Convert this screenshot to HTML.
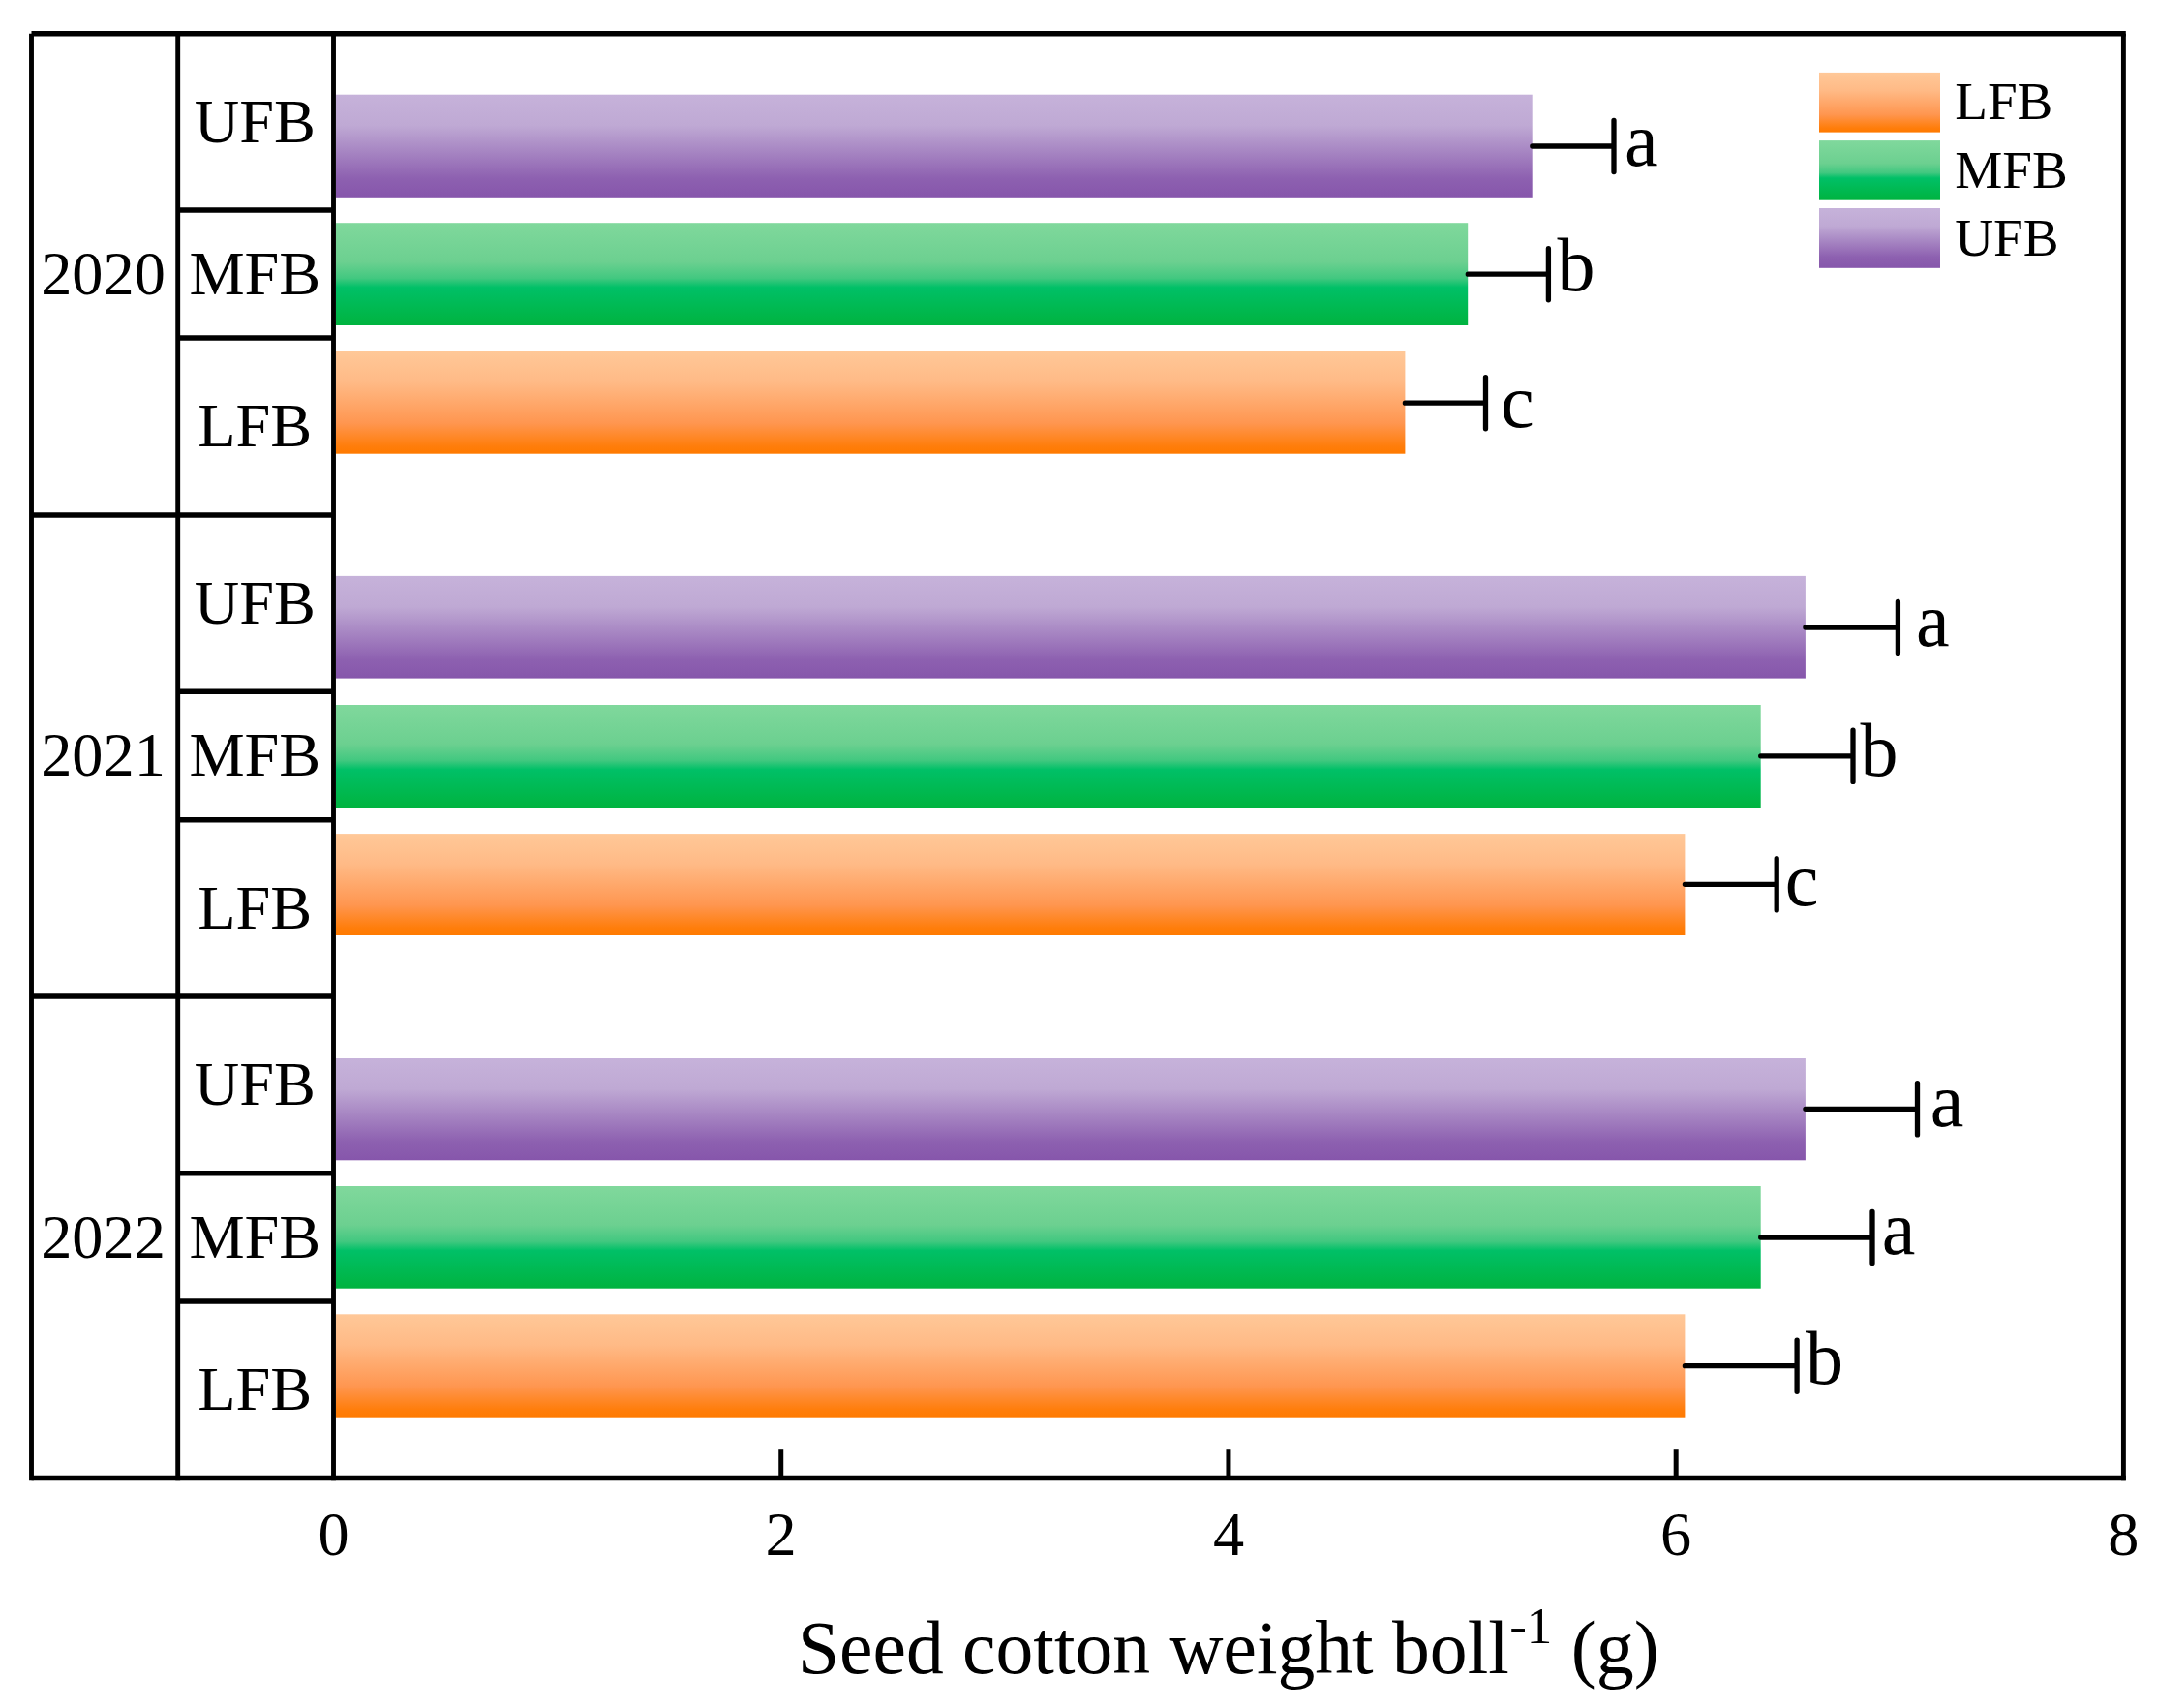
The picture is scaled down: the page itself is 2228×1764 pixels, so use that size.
<!DOCTYPE html>
<html lang="en"><head><meta charset="utf-8"><title>Seed cotton weight per boll</title>
<style>
html,body{margin:0;padding:0;background:#fff;}
body{width:2228px;height:1764px;overflow:hidden;}
svg{display:block;}
text{font-family:"Liberation Serif", "Times New Roman", serif;fill:#000;}
</style></head><body>
<svg width="2228" height="1764" viewBox="0 0 2228 1764">
<defs>
<linearGradient id="gp" x1="0" y1="0" x2="0" y2="1">
<stop offset="0" stop-color="#c6b2da"/><stop offset="0.3" stop-color="#bfa9d4"/><stop offset="0.82" stop-color="#8d60b0"/><stop offset="1" stop-color="#8656ab"/>
</linearGradient>
<linearGradient id="gg" x1="0" y1="0" x2="0" y2="1">
<stop offset="0" stop-color="#80d89c"/><stop offset="0.38" stop-color="#6cd090"/><stop offset="0.54" stop-color="#42c880"/><stop offset="0.63" stop-color="#00c067"/><stop offset="1" stop-color="#00b33f"/>
</linearGradient>
<linearGradient id="go" x1="0" y1="0" x2="0" y2="1">
<stop offset="0" stop-color="#ffc898"/><stop offset="0.3" stop-color="#ffba86"/><stop offset="0.7" stop-color="#ff9650"/><stop offset="0.93" stop-color="#ff7d0a"/><stop offset="1" stop-color="#ff7a00"/>
</linearGradient>
</defs>
<rect x="0" y="0" width="2228" height="1764" fill="#fff"/>

<g id="bars">
<rect x="346.9" y="97.7" width="1235.8" height="106.1" fill="url(#gp)"/>
<rect x="346.9" y="230.2" width="1169.3" height="105.8" fill="url(#gg)"/>
<rect x="346.9" y="363.0" width="1104.5" height="105.7" fill="url(#go)"/>
<rect x="346.9" y="594.9" width="1518.0" height="105.7" fill="url(#gp)"/>
<rect x="346.9" y="728.0" width="1471.8" height="106.0" fill="url(#gg)"/>
<rect x="346.9" y="861.1" width="1393.5" height="104.9" fill="url(#go)"/>
<rect x="346.9" y="1093.0" width="1518.0" height="105.3" fill="url(#gp)"/>
<rect x="346.9" y="1225.0" width="1471.8" height="105.7" fill="url(#gg)"/>
<rect x="346.9" y="1357.3" width="1393.5" height="106.4" fill="url(#go)"/>
</g>
<g id="axes" stroke="#000" fill="none">
<line x1="32.5" y1="34.8" x2="2195.8" y2="34.8" stroke-width="5.5"/>
<line x1="32.5" y1="1526.6" x2="2195.8" y2="1526.6" stroke-width="5.5"/>
<line x1="32.5" y1="532.1" x2="344.5" y2="532.1" stroke-width="5.5"/>
<line x1="32.5" y1="1028.9" x2="344.5" y2="1028.9" stroke-width="5.5"/>
<line x1="183.7" y1="217.0" x2="344.5" y2="217.0" stroke-width="5.5"/>
<line x1="183.7" y1="349.1" x2="344.5" y2="349.1" stroke-width="5.5"/>
<line x1="183.7" y1="714.2" x2="344.5" y2="714.2" stroke-width="5.5"/>
<line x1="183.7" y1="846.7" x2="344.5" y2="846.7" stroke-width="5.5"/>
<line x1="183.7" y1="1211.7" x2="344.5" y2="1211.7" stroke-width="5.5"/>
<line x1="183.7" y1="1344.0" x2="344.5" y2="1344.0" stroke-width="5.5"/>
<line x1="32.5" y1="34.8" x2="32.5" y2="1529.35" stroke-width="4.9"/>
<line x1="183.7" y1="34.8" x2="183.7" y2="1529.35" stroke-width="4.9"/>
<line x1="344.5" y1="34.8" x2="344.5" y2="1529.35" stroke-width="4.9"/>
<line x1="2193.4" y1="34.8" x2="2193.4" y2="1529.35" stroke-width="4.9"/>
<line x1="806.73" y1="1497.2" x2="806.73" y2="1526.6" stroke-width="5"/>
<line x1="1268.95" y1="1497.2" x2="1268.95" y2="1526.6" stroke-width="5"/>
<line x1="1731.18" y1="1497.2" x2="1731.18" y2="1526.6" stroke-width="5"/>
</g>
<g id="errors" stroke="#000" fill="none" stroke-width="5.3" stroke-linecap="round">
<path d="M1582.8 151.0H1667.0M1667.0 124.4V177.6"/>
<path d="M1516.3 283.2H1599.4M1599.4 256.6V309.8"/>
<path d="M1451.4 416.2H1534.5M1534.5 389.6V442.8"/>
<path d="M1864.9 648.0H1960.4M1960.4 621.4V674.6"/>
<path d="M1818.7 780.8H1914.0M1914.0 754.2V807.4"/>
<path d="M1740.4 913.3H1835.2M1835.2 886.7V939.9"/>
<path d="M1864.9 1145.3H1980.5M1980.5 1118.7V1171.9"/>
<path d="M1818.7 1278.0H1934.0M1934.0 1251.4V1304.6"/>
<path d="M1740.4 1410.7H1856.1M1856.1 1384.1V1437.3"/>
</g>
<g id="letters" font-size="78">
<text x="1678.1" y="170.7">a</text>
<text x="1608.4" y="300.3">b</text>
<text x="1550.0" y="441.2">c</text>
<text x="1979.0" y="667.3">a</text>
<text x="1921.4" y="801.2">b</text>
<text x="1843.7" y="934.5">c</text>
<text x="1993.8" y="1162.5">a</text>
<text x="1943.8" y="1295.1">a</text>
<text x="1865.0" y="1429.0">b</text>
</g>
<g id="cats" font-size="64.3" text-anchor="middle">
<text x="263.3" y="146.6">UFB</text>
<text x="263.3" y="303.7">MFB</text>
<text x="263.3" y="461.3">LFB</text>
<text x="263.3" y="643.8">UFB</text>
<text x="263.3" y="801.1">MFB</text>
<text x="263.3" y="958.5">LFB</text>
<text x="263.3" y="1141.0">UFB</text>
<text x="263.3" y="1298.5">MFB</text>
<text x="263.3" y="1456.0">LFB</text>
<text x="106.5" y="304.2">2020</text>
<text x="106.5" y="801.2">2021</text>
<text x="106.5" y="1298.5">2022</text>
</g>
<g id="ticks" font-size="64.3" text-anchor="middle">
<text x="344.5" y="1606.0">0</text>
<text x="806.7" y="1606.0">2</text>
<text x="1269.0" y="1606.0">4</text>
<text x="1731.2" y="1606.0">6</text>
<text x="2193.4" y="1606.0">8</text>
</g>
<text id="xtitle" font-size="78" xml:space="preserve"><tspan x="823.9" y="1728.3" font-size="77.6">Seed cotton weight boll</tspan><tspan x="1559.2" y="1696.8" font-size="53">-1</tspan><tspan x="1603.3" y="1728.3"> (g)</tspan></text>
<g id="legend">
<rect x="1879" y="74.9" width="125" height="61.7" fill="url(#go)"/>
<rect x="1879" y="145.1" width="125" height="61.6" fill="url(#gg)"/>
<rect x="1879" y="215.0" width="125" height="61.8" fill="url(#gp)"/>
<g font-size="55.2">
<text x="2019.2" y="123.4">LFB</text>
<text x="2019.2" y="193.9">MFB</text>
<text x="2019.2" y="264.4">UFB</text>
</g></g>
</svg>
</body></html>
